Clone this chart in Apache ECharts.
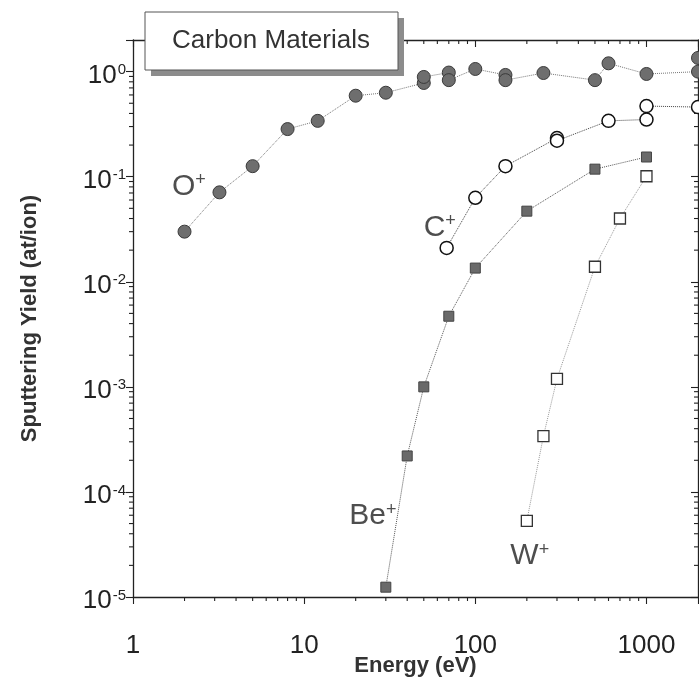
<!DOCTYPE html>
<html><head><meta charset="utf-8">
<script src="https://cdn.jsdelivr.net/npm/echarts@6/dist/echarts.min.js"></script>
<style>html,body{margin:0;padding:0;background:#fff}#c{width:699px;height:685px}</style>
</head><body><div id="c"></div>
<script>
// ---- data ----
const oEnergy = [2, 3.2, 5, 8, 12, 20, 30, 50, 50, 70, 70, 100, 150, 150, 250, 500, 600, 1000, 2000, 2000];
const oYield  = [0.030, 0.071, 0.126, 0.284, 0.34, 0.59, 0.63, 0.78, 0.89, 0.98, 0.83, 1.06, 0.93, 0.83, 0.97, 0.83, 1.2, 0.95, 1.0, 1.35];
const cEnergy = [68, 100, 150, 300, 300, 600, 1000, 1000, 2000];
const cYield  = [0.021, 0.063, 0.126, 0.233, 0.22, 0.34, 0.35, 0.47, 0.46];
const beEnergy = [30, 40, 50, 70, 100, 200, 500, 1000];
const beYield  = [1.24e-5, 2.2e-4, 1.0e-3, 4.7e-3, 0.0135, 0.047, 0.118, 0.154];
const wEnergy = [200, 250, 300, 500, 700, 1000];
const wYield  = [5.3e-5, 3.4e-4, 1.19e-3, 0.0139, 0.040, 0.101];

const labelNames  = ['O', 'C', 'Be', 'W'];
const labelEnergy = [2.12, 62, 25.2, 208];
const labelYield  = [0.081, 0.033, 5.9e-5, 2.45e-5];

const xMin = 1, xMax = 2000, yMin = 1e-5, yMax = 2;
const xMinorTicks = [2,3,4,5,6,7,8,9,20,30,40,50,60,70,80,90,200,300,400,500,600,700,800,900];
const yMinorTicks = [];
[-5,-4,-3,-2,-1,0].forEach(e => [2,3,4,5,6,7,8,9].forEach(k => { const v = k * Math.pow(10, e); if (v < yMax) yMinorTicks.push(v); }));

const title = 'Carbon Materials';
const xName = 'Energy (eV)';
const yName = 'Sputtering Yield (at/ion)';

// ---- chart ----
const LX = Math.log10;
const NARROW = "'Liberation Sans Narrow', 'Liberation Sans', Arial, sans-serif";
const SANS = "'Liberation Sans', Arial, sans-serif";
const INK = '#222';
const axisLine = { show: true, onZero: false, lineStyle: { color: '#222', width: 1.3 } };
const tickStyle = { color: '#222', width: 1.1 };
function isPow(v) { const l = LX(v); return Math.abs(l - Math.round(l)) < 1e-6; }

const chart = echarts.init(document.getElementById('c'), null, { renderer: 'canvas' });
function pairs(xs, ys) { return xs.map((x, i) => [x, ys[i]]); }

// minor tick marks drawn through the axes' own scales (kind 0: x tick, kind 1: y tick)
const minorTickData = xMinorTicks.map(v => [v, yMin, 0]).concat(yMinorTicks.map(v => [xMin, v, 1]));
function renderMinorTick(params, api) {
  const kind = api.value(2);
  const L = 4;
  const st = { stroke: '#222', lineWidth: 1.1 };
  if (kind === 0) {
    const b = api.coord([api.value(0), yMin]);
    const t = api.coord([api.value(0), yMax]);
    return { type: 'group', children: [
      { type: 'line', shape: { x1: b[0], y1: b[1], x2: b[0], y2: b[1] + L }, style: st },
      { type: 'line', shape: { x1: t[0], y1: t[1], x2: t[0], y2: t[1] + L }, style: st } ] };
  }
  const l = api.coord([xMin, api.value(1)]);
  const r = api.coord([xMax, api.value(1)]);
  return { type: 'group', children: [
    { type: 'line', shape: { x1: l[0] - L, y1: l[1], x2: l[0], y2: l[1] }, style: st },
    { type: 'line', shape: { x1: r[0] - L, y1: r[1], x2: r[0], y2: r[1] }, style: st } ] };
}

const option = {
  backgroundColor: '#fff',
  animation: false,
  grid: { left: 133, top: 40, width: 565, height: 557, containLabel: false, outerBoundsMode: 'none' },
  xAxis: [
    { type: 'log', logBase: 10, min: xMin, max: xMax, position: 'bottom', axisLine,
      axisTick: { show: true, length: 7, lineStyle: tickStyle },
      axisLabel: { margin: 36, color: INK, fontSize: 26, fontFamily: NARROW,
        formatter: v => isPow(v) ? String(Math.round(v)) : '' },
      splitLine: { show: false },
      name: xName, nameLocation: 'middle', nameGap: 58, nameMoveOverlap: false,
      nameTextStyle: { fontSize: 22, fontWeight: 'bold', color: '#333', fontFamily: SANS } },
    { type: 'log', logBase: 10, min: xMin, max: xMax, position: 'top', axisLine,
      axisTick: { show: true, inside: true, length: 7, lineStyle: tickStyle },
      axisLabel: { show: false }, splitLine: { show: false } }
  ],
  yAxis: [
    { type: 'log', logBase: 10, min: yMin, max: yMax, position: 'left', axisLine,
      axisTick: { show: true, length: 7, lineStyle: tickStyle },
      axisLabel: { margin: 7, color: INK, padding: [8, 0, 0, 0],
        formatter: v => isPow(v) ? '{b|10}{s|' + Math.round(LX(v)) + '}' : '',
        rich: { b: { fontSize: 26, fontFamily: NARROW, color: INK },
                s: { fontSize: 15, fontFamily: NARROW, color: INK, verticalAlign: 'top', padding: [0, 0, 0, 1] } } },
      splitLine: { show: false },
      name: yName, nameLocation: 'middle', nameGap: 92, nameMoveOverlap: false,
      nameTextStyle: { fontSize: 22, fontWeight: 'bold', color: '#333', fontFamily: SANS } },
    { type: 'log', logBase: 10, min: yMin, max: yMax, position: 'right', axisLine,
      axisTick: { show: true, inside: true, length: 7, lineStyle: tickStyle },
      axisLabel: { show: false }, splitLine: { show: false } }
  ],
  series: [
    { name: 'minorTicks', type: 'custom', xAxisIndex: 0, yAxisIndex: 0, silent: true, clip: false,
      data: minorTickData, renderItem: renderMinorTick, z: 1 },
    { name: 'O+', type: 'line', xAxisIndex: 0, yAxisIndex: 0, data: pairs(oEnergy, oYield),
      symbol: 'circle', symbolSize: 13, showAllSymbol: true,
      lineStyle: { type: 'dotted', color: '#777', width: 1 },
      itemStyle: { color: '#6e6e6e', borderColor: '#3a3a3a', borderWidth: 1 }, z: 3 },
    { name: 'C+', type: 'line', xAxisIndex: 0, yAxisIndex: 0, data: pairs(cEnergy, cYield),
      symbol: 'circle', symbolSize: 13, showAllSymbol: true,
      lineStyle: { type: 'dotted', color: '#444', width: 1 },
      itemStyle: { color: '#fff', borderColor: '#111', borderWidth: 1.5 }, z: 3 },
    { name: 'Be+', type: 'line', xAxisIndex: 0, yAxisIndex: 0, data: pairs(beEnergy, beYield),
      symbol: 'rect', symbolSize: 10, showAllSymbol: true,
      lineStyle: { type: 'dotted', color: '#555', width: 1 },
      itemStyle: { color: '#6a6a6a', borderColor: '#444', borderWidth: 1 }, z: 3 },
    { name: 'W+', type: 'line', xAxisIndex: 0, yAxisIndex: 0, data: pairs(wEnergy, wYield),
      symbol: 'rect', symbolSize: 11, showAllSymbol: true,
      lineStyle: { type: 'dotted', color: '#999', width: 1 },
      itemStyle: { color: '#fff', borderColor: '#333', borderWidth: 1.3 }, z: 3 },
    { name: 'labels', type: 'scatter', xAxisIndex: 0, yAxisIndex: 0, silent: true,
      data: labelNames.map((n, i) => [labelEnergy[i], labelYield[i], n]),
      symbolSize: 1, itemStyle: { color: 'transparent' },
      label: { show: true, position: 'inside',
        formatter: p => '{m|' + p.data[2] + '}{s|+}',
        rich: { m: { fontSize: 30, fontFamily: SANS, color: INK },
                s: { fontSize: 18, fontFamily: SANS, color: INK, verticalAlign: 'top' } } }, z: 4 }
  ],
  graphic: [
    { type: 'rect', x: 151, y: 18, shape: { width: 253, height: 58 }, style: { fill: '#8c8c8c' }, z: 100 },
    { type: 'rect', x: 145, y: 12, shape: { width: 253, height: 58 }, style: { fill: '#fff', stroke: '#555', lineWidth: 1 }, z: 101 },
    { type: 'text', x: 271, y: 41, style: { text: title, fontSize: 26, fontFamily: SANS, fill: '#333', align: 'center', verticalAlign: 'middle' }, z: 102 }
  ]
};
chart.setOption(option);
</script>
</body></html>
